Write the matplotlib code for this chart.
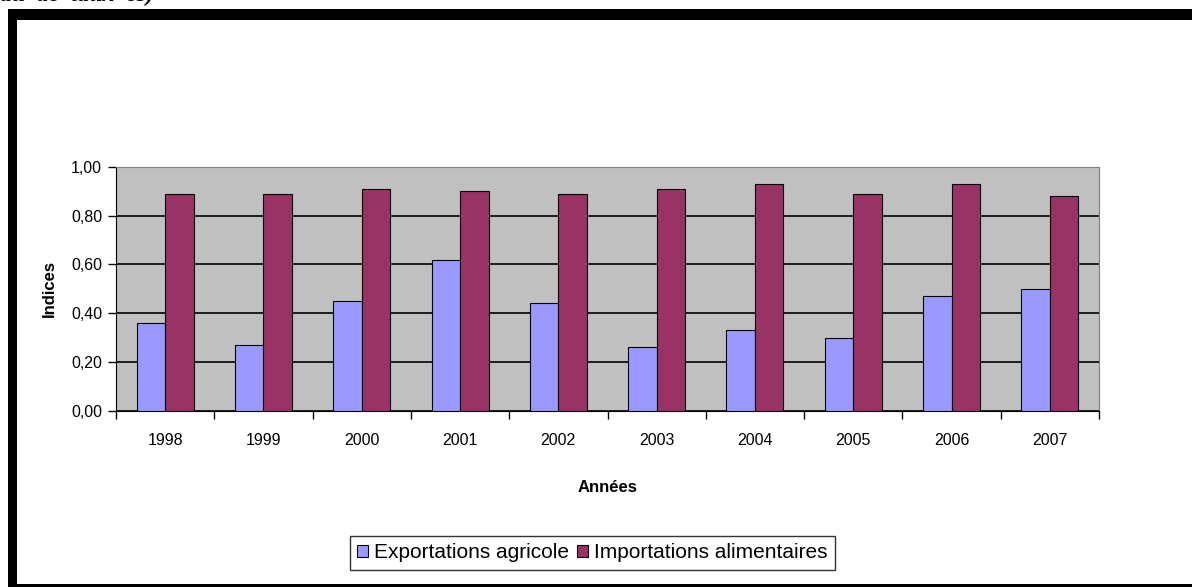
import matplotlib.pyplot as plt
from matplotlib.patches import Rectangle
import numpy as np

annees = ['1998', '1999', '2000', '2001', '2002', '2003', '2004', '2005', '2006', '2007']
exportations = [0.36, 0.27, 0.45, 0.62, 0.44, 0.26, 0.33, 0.30, 0.47, 0.50]
importations = [0.89, 0.89, 0.91, 0.90, 0.89, 0.91, 0.93, 0.89, 0.93, 0.88]

plt.rcParams['font.family'] = ['Liberation Sans', 'DejaVu Sans']

W, H = 1192, 587
fig = plt.figure(figsize=(W / 100, H / 100), dpi=100)

def px(x0, y0, x1, y1):
    # pixel box (top-left origin) to figure fraction rectangle
    return [x0 / W, 1 - y1 / H, (x1 - x0) / W, (y1 - y0) / H]

# outer frame (black bars)
for box in [(8, 9, 17, 587), (8, 9, W, 20), (8, 584, W, 587)]:
    r = px(*box)
    fig.patches.append(Rectangle((r[0], r[1]), r[2], r[3], transform=fig.transFigure,
                                 facecolor='black', edgecolor='none'))

# title line above the frame, mostly cut off by the page edge
fig.text(0.0, 1 - 1 / H, 'au  de  taux  es)', fontsize=17, style='italic',
         weight='bold', family='Liberation Serif', va='baseline', ha='left')

ax = fig.add_axes(px(116, 167, 1099, 410.7))
ax.set_facecolor('#C0C0C0')
x = np.arange(len(annees))
w = 0.29
ax.bar(x - w / 2, exportations, w, color='#9999FF', edgecolor='black', linewidth=0.8,
       label='Exportations agricole', zorder=3)
ax.bar(x + w / 2, importations, w, color='#993366', edgecolor='black', linewidth=0.8,
       label='Importations alimentaires', zorder=3)

ax.set_xlim(-0.5, len(annees) - 0.5)
ax.set_ylim(0, 1.0)
yt = np.arange(0, 1.01, 0.2)
ax.set_yticks(yt)
ax.set_yticklabels([f'{v:.2f}'.replace('.', ',') for v in yt], fontsize=11.5)
ax.yaxis.grid(True, color='black', linewidth=1.2, zorder=1)
ax.set_axisbelow(True)

ax.set_xticks(np.arange(-0.5, len(annees), 1.0))
ax.set_xticklabels([])
ax.set_xticks(x, minor=True)
ax.set_xticklabels(annees, minor=True, fontsize=11.5)
ax.tick_params(axis='x', which='minor', length=0, pad=16)
ax.tick_params(axis='x', which='major', length=6, direction='out', width=1)
ax.tick_params(axis='y', length=6, direction='out', width=1, pad=4)

ax.spines['left'].set_color('black')
ax.spines['bottom'].set_color('black')
ax.spines['top'].set_color('#808080')
ax.spines['right'].set_color('#808080')

ax.set_xlabel('Années', fontsize=12, weight='bold', labelpad=23)
ax.set_ylabel('Indices', fontsize=12, weight='bold', labelpad=10)

leg = fig.legend(loc='center', bbox_to_anchor=((350 + 835) / 2 / W, 1 - 553 / H), ncol=2,
                 fontsize=15, frameon=True, fancybox=False, edgecolor='black',
                 handlelength=0.5, handleheight=0.5, handletextpad=0.3, columnspacing=0.4,
                 borderpad=0.35)
leg.get_frame().set_linewidth(1.0)

fig.savefig('out.png', dpi=100)
